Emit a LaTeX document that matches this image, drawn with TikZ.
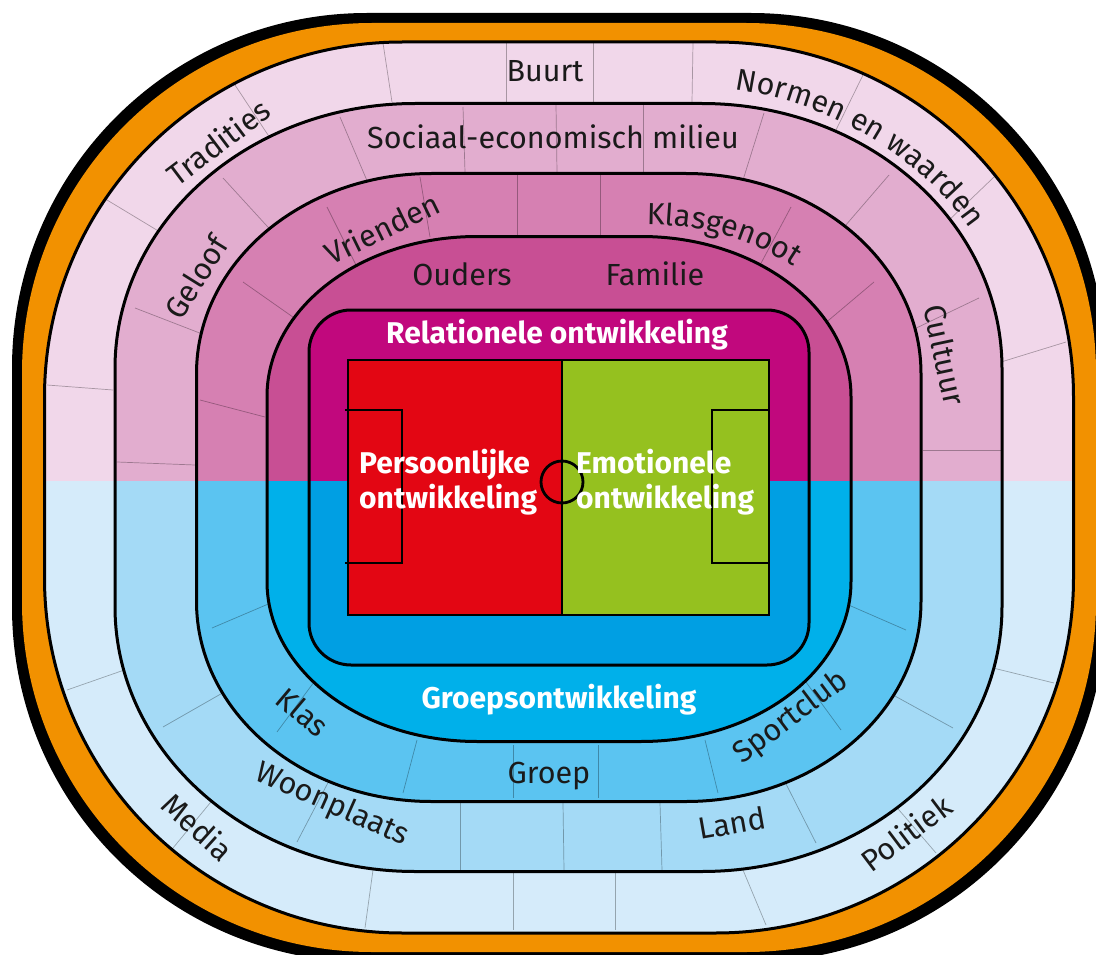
\documentclass[tikz,border=0pt]{standalone}
\usepackage{fontspec}
\setmainfont{Fira Sans}
\usetikzlibrary{decorations.text}
\definecolor{orng}{HTML}{F29100}
\definecolor{pA}{HTML}{F1D7EA}\definecolor{bA}{HTML}{D5EBFA}
\definecolor{pB}{HTML}{E2ADCF}\definecolor{bB}{HTML}{A4DAF6}
\definecolor{pC}{HTML}{D680B2}\definecolor{bC}{HTML}{5BC4F1}
\definecolor{pD}{HTML}{C84F94}\definecolor{bD}{HTML}{00B0EA}
\definecolor{pE}{HTML}{C1087D}\definecolor{bE}{HTML}{009FE3}
\definecolor{fred}{HTML}{E30613}\definecolor{fgreen}{HTML}{95C11F}
\definecolor{txt}{HTML}{1A1A1A}
\newcommand\stad[7]{%
 ({#1+#5},{#2}) -- ({#3-#5},{#2})
 .. controls ({#3-#7*#5},{#2}) and ({#3},{#2+#7*#6}) .. ({#3},{#2+#6})
 -- ({#3},{#4-#6})
 .. controls ({#3},{#4-#7*#6}) and ({#3-#7*#5},{#4}) .. ({#3-#5},{#4})
 -- ({#1+#5},{#4})
 .. controls ({#1+#7*#5},{#4}) and ({#1},{#4-#7*#6}) .. ({#1},{#4-#6})
 -- ({#1},{#2+#6})
 .. controls ({#1},{#2+#7*#6}) and ({#1+#7*#5},{#2}) .. ({#1+#5},{#2}) -- cycle}
\newcommand\ring[9]{%
 \fill[#9] \stad{#1}{#2}{#3}{#4}{#5}{#6}{#7};
 \begin{scope}\clip (0,0) rectangle (1096,480);
 \fill[#8] \stad{#1}{#2}{#3}{#4}{#5}{#6}{#7};
 \end{scope}
 \draw[ringline] \stad{#1}{#2}{#3}{#4}{#5}{#6}{#7};}
\newcommand\lblfont{\fontsize{30.5}{36}\selectfont}
\tikzset{
 ringline/.style={draw=black, line width=3pt},
 fieldline/.style={draw=black, line width=2.8pt},
 seat/.style={draw=black, opacity=0.3, line width=0.7pt},
 lbl/.style={font=\lblfont, text=txt, inner sep=0pt},
 blbl/.style={font=\fontsize{30}{35}\selectfont\bfseries, text=white, inner sep=0pt},
}
\begin{document}
\begin{tikzpicture}[x=1pt, y=-1pt]
\useasboundingbox (0,0) rectangle (1096,955);
% outer border
\fill[black] \stad{12}{13}{1106}{962}{355}{355}{0.448};
\fill[orng] \stad{22}{23}{1096}{952}{350}{350}{0.448};
% band A
\ring{44.5}{42}{1073.5}{933}{358}{355}{0.448}{pA}{bA}
\foreach \a/\b/\c/\d in {47/385/113/390, 107/200/165/235, 235/85/270/138, 383/43/392/102, 506/43/506/102, 593/43/593/102, 693/43/692/102, 863/75/836/130, 994/177/946/223, 1066/342/1001/362, 67/690/130/668, 173/848/215/797, 365/928/373/870, 513/873/513/930, 615/872/615/930, 743/870/766/925, 893/803/936/853, 989/667/1054/683}
 \draw[seat] (\a,\b) -- (\c,\d);
% band B
\ring{115}{103.5}{1002}{871.5}{300}{265}{0.448}{pB}{bB}
\foreach \a/\b/\c/\d in {117/462/195/465, 135/308/210/337, 223/178/277/237, 340/117/368/183, 463/107/465/172, 556/105/557/172, 643/105/643/172, 764/113/743/180, 889/175/839/233, 979/298/908/332, 923/450/1001/450, 163/727/233/687, 297/842/332/775, 460/803/460/870, 563/803/564/870, 660/803/662/870, 783/778/816/843, 884/690/953/728}
 \draw[seat] (\a,\b) -- (\c,\d);
% band C
\ring{196.5}{173.5}{921}{801.5}{235}{200}{0.448}{pC}{bC}
\foreach \a/\b/\c/\d in {200/400/265/417, 243/282/300/322, 327/207/357/267, 420/177/430/237, 517/175/517/236, 600/175/600/236, 791/207/759/267, 874/282/823/325, 212/628/273/602, 277/732/317/678, 403/793/417/740, 513/745/513/798, 598/745/598/798, 705/740/718/793, 803/678/841/730, 844/603/906/630}
 \draw[seat] (\a,\b) -- (\c,\d);
% band D
\ring{267}{236.5}{851}{741.5}{210}{160}{0.448}{pD}{bD}
% inner rect
\ring{309}{310}{809}{665}{42}{42}{0.448}{pE}{bE}
% field
\fill[fred] (348,360) rectangle (562,615);
\fill[fgreen] (562,360) rectangle (769,615);
\draw[fieldline] (348,360) rectangle (769,615);
\draw[fieldline] (562,360) -- (562,615);
\draw[fieldline] (562,482) circle[radius=21];
\draw[fieldline] (345,410) -- (402,410) -- (402,563) -- (345,563);
\draw[fieldline] (769,410) -- (712,410) -- (712,563) -- (769,563);
% labels
\node[lbl, anchor=base] (buurt) at (545,81.7) {Buurt};
\node[lbl, anchor=base] (sociaal) at (553,149) {Sociaal-economisch milieu};
\node[lbl, anchor=base] (ouders) at (462,285) {Ouders};
\node[lbl, anchor=base] (familie) at (655,285) {Familie};
\node[lbl, rotate=37] (tradities) at (218,142) {Tradities};
\node[lbl, rotate=58] (geloof) at (196,277) {Geloof};
\node[lbl, rotate=26] (vrienden) at (382,228) {Vrienden};
\node[lbl, rotate=-78] (cultuur) at (945,355) {Cultuur};
\node[lbl, rotate=-40] (klas) at (303,712) {Klas};
\node[lbl, rotate=-24] (woonplaats) at (332,805) {Woonplaats};
\node[lbl, rotate=-42] (media) at (198,827) {Media};
\node[lbl, rotate=10] (land) at (732,823) {Land};
\node[lbl, rotate=37] (sportclub) at (791,718) {Sportclub};
\node[lbl, rotate=37] (politiek) at (906,833) {Politiek};
\node[lbl, anchor=base] (groep) at (549,783) {Groep};
\path[decorate, decoration={text along path, text={|\lblfont\color{txt}|Normen en waarden}, text align=center}]
 ({677+345*cos(-100)},{390+305*sin(-100)}) arc[start angle=-100, end angle=-10, x radius=345, y radius=305];
\path[decorate, decoration={text along path, text={|\lblfont\color{txt}|Klasgenoot}, text align=center}]
 ({650+216*cos(-113)},{392+167*sin(-113)}) arc[start angle=-113, end angle=-23, x radius=216, y radius=167];
\node[blbl, anchor=base] (relationele) at (557,343) {Relationele ontwikkeling};
\node[blbl, anchor=base] (groepsontw) at (559,708) {Groepsontwikkeling};
\node[blbl, anchor=base west, align=left] (persoonlijk) at (359,508) {Persoonlijke\\ontwikkeling};
\node[blbl, anchor=base west, align=left] (emotioneel) at (576,508) {Emotionele\\ontwikkeling};
\end{tikzpicture}
\end{document}
